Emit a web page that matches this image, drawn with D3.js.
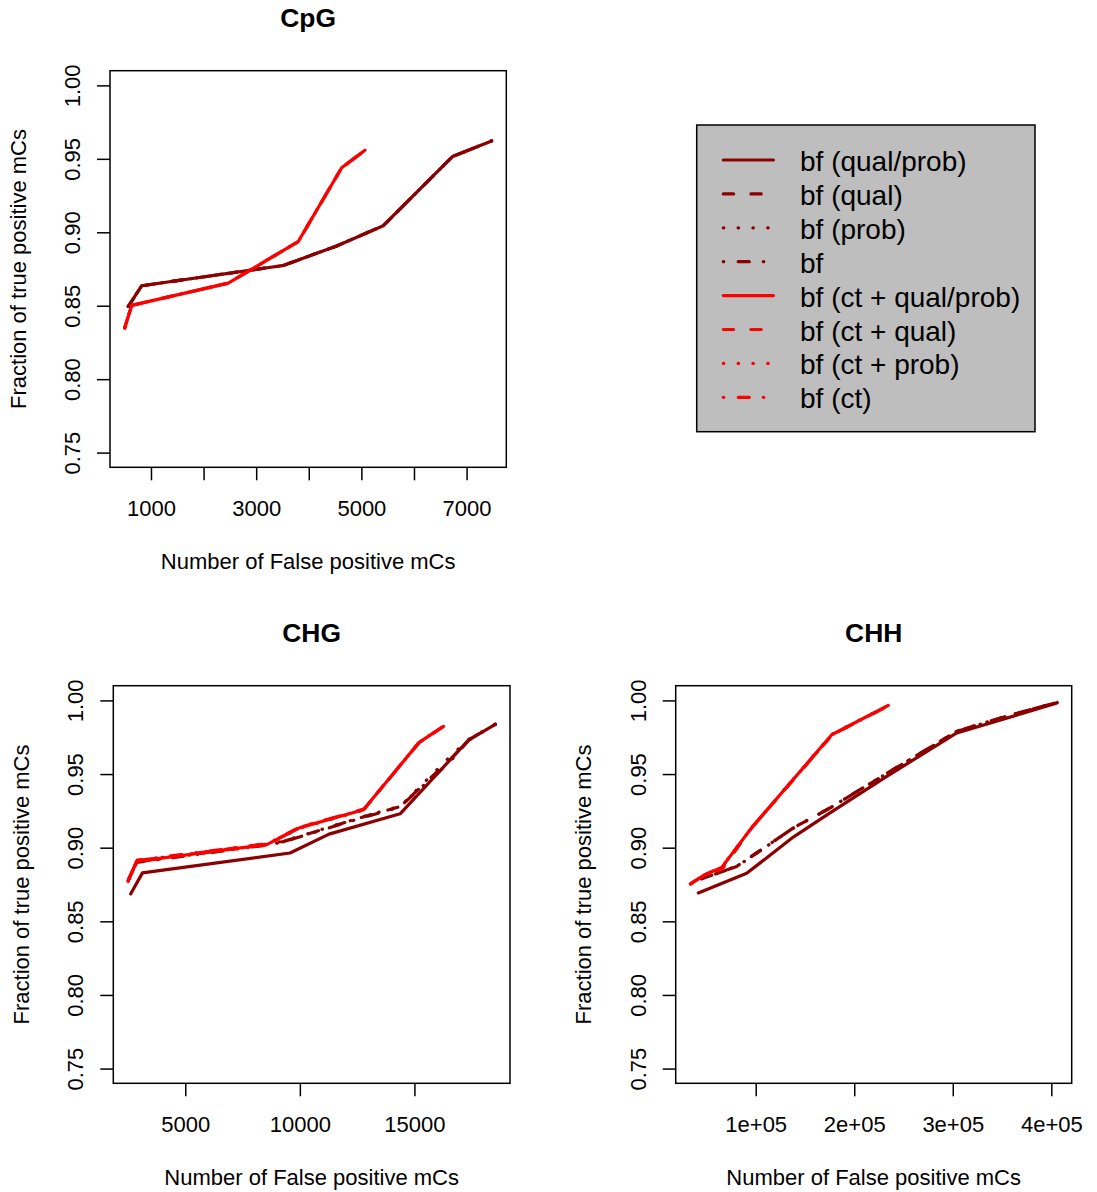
<!DOCTYPE html>
<html><head><meta charset="utf-8">
<script src="https://cdn.jsdelivr.net/npm/d3@7"></script>
<style>
body{margin:0;background:#fff}
svg{display:block}
text{font-family:"Liberation Sans",Arial,Helvetica,sans-serif;fill:#000}
</style>
</head><body>
<svg id="chart" width="1097" height="1192"></svg>
<script>
// ---------------- data ----------------
const seriesLabels = ["bf (qual/prob)","bf (qual)","bf (prob)","bf",
  "bf (ct + qual/prob)","bf (ct + qual)","bf (ct + prob)","bf (ct)"];
const seriesColors = ["#8B0000","#8B0000","#8B0000","#8B0000","#FF0000","#FF0000","#FF0000","#FF0000"];
const seriesLty = ["solid","dashed","dotted","dotdash","solid","dashed","dotted","dotdash"];

const yTicks = [0.75, 0.80, 0.85, 0.90, 0.95, 1.00];
const yTickLabels = ["0.75","0.80","0.85","0.90","0.95","1.00"];
const yLimits = [0.75, 1.00];

const xTitle = "Number of False positive mCs";
const yTitle = "Fraction of true positive mCs";

// CpG
const cpgTicks = [1000,2000,3000,4000,5000,6000,7000];
const cpgTickLabels = ["1000","","3000","","5000","","7000"];
const cpgFP = [
  [570, 823, 3515, 4530, 5416, 6735, 7476],
  [570, 823, 3515, 4530, 5416, 6735, 7476],
  [570, 823, 3515, 4530, 5416, 6735, 7476],
  [570, 823, 3515, 4530, 5416, 6735, 7476],
  [500, 633, 2470, 3800, 4625, 5068],
  [500, 633, 2470, 3800, 4625, 5068],
  [500, 633, 2470, 3800, 4625, 5068],
  [500, 633, 2470, 3800, 4625, 5068]
];
const cpgTP = [
  [0.8496, 0.8636, 0.8774, 0.8907, 0.9045, 0.9516, 0.9622],
  [0.8496, 0.8636, 0.8774, 0.8907, 0.9045, 0.9516, 0.9622],
  [0.8496, 0.8636, 0.8774, 0.8907, 0.9045, 0.9516, 0.9622],
  [0.8496, 0.8636, 0.8774, 0.8907, 0.9045, 0.9516, 0.9622],
  [0.8349, 0.8502, 0.8654, 0.8937, 0.9439, 0.9559],
  [0.8349, 0.8502, 0.8654, 0.8937, 0.9439, 0.9559],
  [0.8349, 0.8502, 0.8654, 0.8937, 0.9439, 0.9559],
  [0.8349, 0.8502, 0.8654, 0.8937, 0.9439, 0.9559]
];

// CHG
const chgTicks = [5000, 10000, 15000];
const chgTickLabels = ["5000","10000","15000"];
const chgFP = [
  [2616, 3131, 9572, 11275, 14376, 17359, 18530],
  [2541, 2891, 8568, 9267, 12760, 14376, 16559, 17359, 18530],
  [2560, 2900, 8600, 9300, 12800, 14400, 16500, 17359, 18530],
  [2530, 2880, 8550, 9250, 12750, 14350, 16600, 17359, 18530],
  [2500, 2878, 8555, 10009, 12773, 15206, 16267],
  [2520, 2890, 8580, 10050, 12790, 15190, 16250],
  [2510, 2870, 8530, 9990, 12760, 15220, 16280],
  [2530, 2900, 8600, 10030, 12800, 15200, 16260]
];
const chgTP = [
  [0.8686, 0.8829, 0.8964, 0.9092, 0.9230, 0.9731, 0.9838],
  [0.8788, 0.8905, 0.9021, 0.9041, 0.9209, 0.9279, 0.9598, 0.9731, 0.9838],
  [0.8792, 0.8912, 0.9025, 0.9045, 0.9212, 0.9283, 0.9610, 0.9735, 0.9838],
  [0.8785, 0.8900, 0.9018, 0.9038, 0.9205, 0.9275, 0.9592, 0.9728, 0.9838],
  [0.8776, 0.8907, 0.9021, 0.9136, 0.9258, 0.9715, 0.9824],
  [0.8780, 0.8912, 0.9026, 0.9140, 0.9262, 0.9712, 0.9822],
  [0.8772, 0.8903, 0.9017, 0.9132, 0.9254, 0.9718, 0.9826],
  [0.8783, 0.8915, 0.9028, 0.9142, 0.9260, 0.9713, 0.9823]
];

// CHH
const chhTicks = [100000, 200000, 300000, 400000];
const chhTickLabels = ["1e+05","2e+05","3e+05","4e+05"];
const chhFP = [
  [41745, 90866, 138160, 175408, 232955, 304000, 405800],
  [45499, 80716, 97564, 138160, 175408, 222806, 304000, 354035, 405800],
  [46500, 81500, 98500, 139000, 176000, 223500, 304500, 354500, 405800],
  [45000, 80000, 97000, 137500, 175000, 222000, 303500, 353500, 405800],
  [33700, 48544, 65493, 95940, 177134, 234578],
  [34500, 50000, 66500, 96500, 177500, 234300],
  [35500, 47500, 64800, 95500, 176800, 234000],
  [34000, 51000, 66000, 96200, 177300, 234400]
];
const chhTP = [
  [0.8693, 0.8826, 0.9072, 0.9236, 0.9484, 0.9779, 0.9982],
  [0.8790, 0.8873, 0.8949, 0.9134, 0.9270, 0.9462, 0.9790, 0.9893, 0.9986],
  [0.8793, 0.8876, 0.8952, 0.9136, 0.9272, 0.9465, 0.9792, 0.9895, 0.9986],
  [0.8788, 0.8871, 0.8946, 0.9131, 0.9268, 0.9460, 0.9788, 0.9891, 0.9986],
  [0.8754, 0.8817, 0.8865, 0.9136, 0.9767, 0.9966],
  [0.8758, 0.8822, 0.8860, 0.9140, 0.9765, 0.9964],
  [0.8760, 0.8812, 0.8862, 0.9132, 0.9768, 0.9965],
  [0.8752, 0.8825, 0.8868, 0.9138, 0.9766, 0.9963]
];

// ---------------- drawing ----------------
const svg = d3.select("#chart");
const FONT = 22;
const LW = 3.2;
const dashMap = {solid: null, dashed: "10.3,17.3", dotted: "0.5,14.3", dotdash: "0.5,14.4,11.1,14"};

function extend(ext){ const r = ext[1]-ext[0]; return [ext[0]-0.04*r, ext[1]+0.04*r]; }

function drawPanel(box, title, fp, tp, xt, xtl){
  const allX = fp.flat();
  const x = d3.scaleLinear().domain(extend(d3.extent(allX))).range([box.l, box.r]);
  const y = d3.scaleLinear().domain(extend(yLimits)).range([box.b, box.t]);
  const g = svg.append("g");

  // lines
  const line = d3.line().x(d => x(d[0])).y(d => y(d[1]));
  fp.forEach((xs, i) => {
    const pts = xs.map((v, j) => [v, tp[i][j]]);
    g.append("path").attr("d", line(pts))
      .attr("fill","none").attr("stroke", seriesColors[i])
      .attr("stroke-width", LW).attr("stroke-linecap","round").attr("stroke-linejoin","round")
      .attr("stroke-dasharray", dashMap[seriesLty[i]]);
  });

  // box
  g.append("rect").attr("x", box.l).attr("y", box.t).attr("width", box.r-box.l).attr("height", box.b-box.t)
    .attr("fill","none").attr("stroke","#000").attr("stroke-width",1.5);

  // x axis
  const xa = g.append("g").attr("transform", `translate(0,${box.b})`)
    .call(d3.axisBottom(x).tickValues(xt).tickSize(13).tickFormat((d,i) => xtl[i]));
  xa.select(".domain").remove();
  xa.selectAll("line").attr("stroke","#000").attr("stroke-width",1.5);
  xa.selectAll("text").attr("y", 41).attr("dy","0.36em").attr("font-size", FONT)
    .attr("font-family",'"Liberation Sans",Arial,sans-serif').attr("fill","#000");

  // y axis
  const ya = g.append("g").attr("transform", `translate(${box.l},0)`)
    .call(d3.axisLeft(y).tickValues(yTicks).tickSize(13).tickFormat((d,i) => yTickLabels[i]));
  ya.select(".domain").remove();
  ya.selectAll("line").attr("stroke","#000").attr("stroke-width",1.5);
  ya.selectAll("text").attr("x", 0).attr("dy","0.36em")
    .attr("transform","translate(-38,0) rotate(-90)").attr("text-anchor","middle")
    .attr("font-size", FONT).attr("font-family",'"Liberation Sans",Arial,sans-serif').attr("fill","#000");

  // titles
  const cx = (box.l+box.r)/2, cy = (box.t+box.b)/2;
  g.append("text").attr("x", cx).attr("y", box.t-53).attr("dy","0.36em").attr("text-anchor","middle")
    .attr("font-size", 26.4).attr("font-weight","bold").text(title);
  g.append("text").attr("x", cx).attr("y", box.b+94).attr("dy","0.35em").attr("text-anchor","middle")
    .attr("font-size", FONT).text(xTitle);
  g.append("text").attr("transform", `translate(${box.l-92},${cy}) rotate(-90)`).attr("dy","0.35em")
    .attr("text-anchor","middle").attr("font-size", FONT).text(yTitle);
}

drawPanel({l:110, r:506.3, t:70.7, b:467.3}, "CpG", cpgFP, cpgTP, cpgTicks, cpgTickLabels);
drawPanel({l:113.3, r:510, t:685.7, b:1083.3}, "CHG", chgFP, chgTP, chgTicks, chgTickLabels);
drawPanel({l:675.7, r:1071.7, t:685.7, b:1083.3}, "CHH", chhFP, chhTP, chhTicks, chhTickLabels);

// legend
const lg = svg.append("g");
lg.append("rect").attr("x",696.7).attr("y",125).attr("width",1035-696.7).attr("height",431.7-125)
  .attr("fill","#BEBEBE").attr("stroke","#000").attr("stroke-width",1.5);
const rowY = d3.scaleLinear().domain([0, seriesLabels.length-1]).range([160, 397.3]);
seriesLabels.forEach((lab, i) => {
  const yy = rowY(i);
  lg.append("line").attr("x1",723.3).attr("x2",773.4).attr("y1",yy).attr("y2",yy)
    .attr("stroke", seriesColors[i]).attr("stroke-width", LW).attr("stroke-linecap","round")
    .attr("stroke-dasharray", dashMap[seriesLty[i]]);
  lg.append("text").attr("x",800).attr("y",yy+11).attr("font-size",28).text(lab);
});
</script>
</body></html>
